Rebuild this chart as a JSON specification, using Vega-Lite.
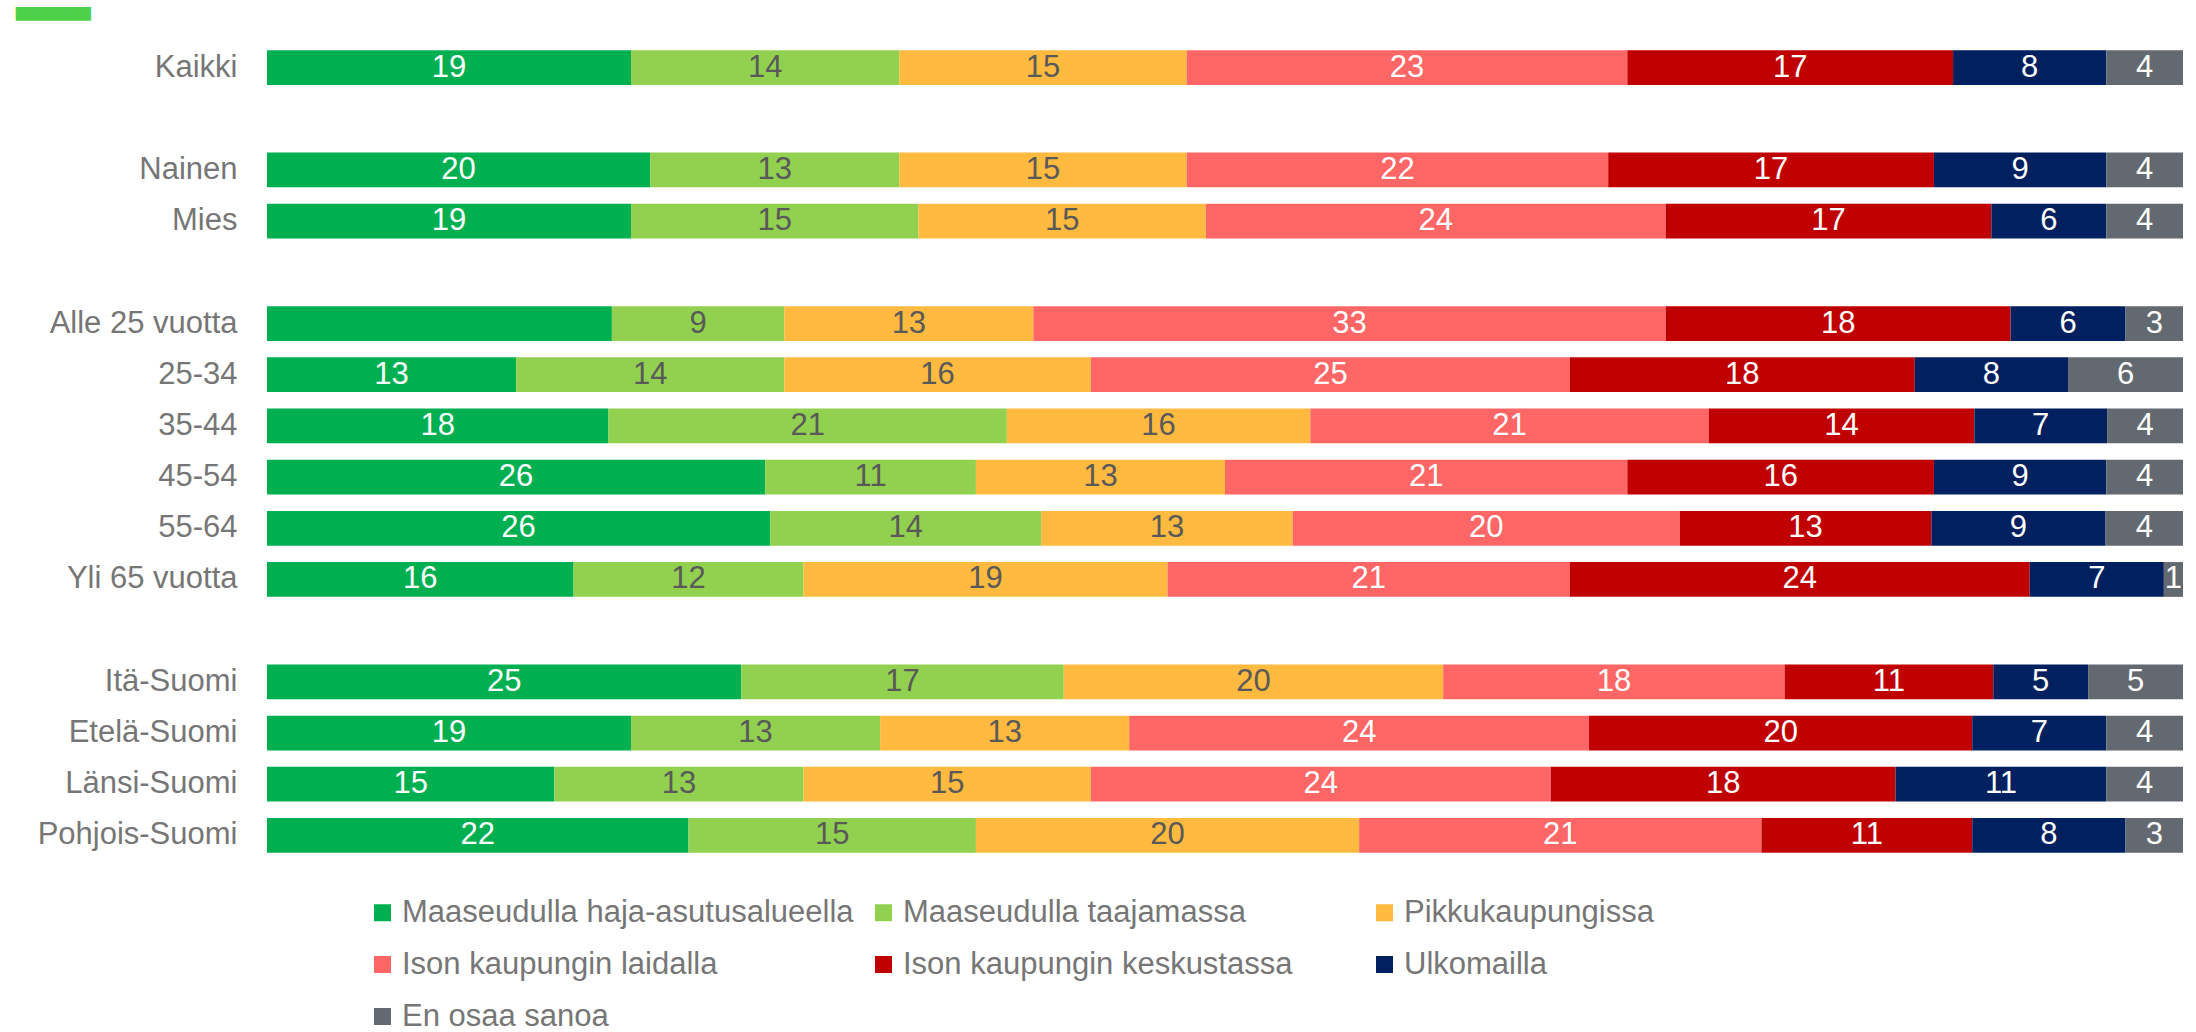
{
  "$schema": "https://vega.github.io/schema/vega-lite/v6.json",
  "width": 1916,
  "height": 819,
  "autosize": {"type": "none"},
  "padding": {"left": 267, "top": 42, "right": 13, "bottom": 171},
  "background": "white",
  "title": {"text": "▃▃▃▃", "anchor": "start", "frame": "group", "dx": -251, "fontSize": 31, "color": "#4FD04A", "font": "DejaVu Sans Mono", "offset": 22},
  "config": {"view": {"stroke": null}, "font": "Liberation Sans"},
  "datasets": {
    "cats": [
      {"cat": "Maaseudulla haja-asutusalueella", "k": 1},
      {"cat": "Maaseudulla taajamassa", "k": 2},
      {"cat": "Pikkukaupungissa", "k": 3},
      {"cat": "Ison kaupungin laidalla", "k": 4},
      {"cat": "Ison kaupungin keskustassa", "k": 5},
      {"cat": "Ulkomailla", "k": 6},
      {"cat": "En osaa sanoa", "k": 7}
    ],
    "rows": [
      {"g": "Kaikki", "cat": "Maaseudulla haja-asutusalueella", "v": 19},
      {"g": "Kaikki", "cat": "Maaseudulla taajamassa", "v": 14},
      {"g": "Kaikki", "cat": "Pikkukaupungissa", "v": 15},
      {"g": "Kaikki", "cat": "Ison kaupungin laidalla", "v": 23},
      {"g": "Kaikki", "cat": "Ison kaupungin keskustassa", "v": 17},
      {"g": "Kaikki", "cat": "Ulkomailla", "v": 8},
      {"g": "Kaikki", "cat": "En osaa sanoa", "v": 4},
      {"g": "Nainen", "cat": "Maaseudulla haja-asutusalueella", "v": 20},
      {"g": "Nainen", "cat": "Maaseudulla taajamassa", "v": 13},
      {"g": "Nainen", "cat": "Pikkukaupungissa", "v": 15},
      {"g": "Nainen", "cat": "Ison kaupungin laidalla", "v": 22},
      {"g": "Nainen", "cat": "Ison kaupungin keskustassa", "v": 17},
      {"g": "Nainen", "cat": "Ulkomailla", "v": 9},
      {"g": "Nainen", "cat": "En osaa sanoa", "v": 4},
      {"g": "Mies", "cat": "Maaseudulla haja-asutusalueella", "v": 19},
      {"g": "Mies", "cat": "Maaseudulla taajamassa", "v": 15},
      {"g": "Mies", "cat": "Pikkukaupungissa", "v": 15},
      {"g": "Mies", "cat": "Ison kaupungin laidalla", "v": 24},
      {"g": "Mies", "cat": "Ison kaupungin keskustassa", "v": 17},
      {"g": "Mies", "cat": "Ulkomailla", "v": 6},
      {"g": "Mies", "cat": "En osaa sanoa", "v": 4},
      {"g": "Alle 25 vuotta", "cat": "Maaseudulla haja-asutusalueella", "v": 18},
      {"g": "Alle 25 vuotta", "cat": "Maaseudulla taajamassa", "v": 9},
      {"g": "Alle 25 vuotta", "cat": "Pikkukaupungissa", "v": 13},
      {"g": "Alle 25 vuotta", "cat": "Ison kaupungin laidalla", "v": 33},
      {"g": "Alle 25 vuotta", "cat": "Ison kaupungin keskustassa", "v": 18},
      {"g": "Alle 25 vuotta", "cat": "Ulkomailla", "v": 6},
      {"g": "Alle 25 vuotta", "cat": "En osaa sanoa", "v": 3},
      {"g": "25-34", "cat": "Maaseudulla haja-asutusalueella", "v": 13},
      {"g": "25-34", "cat": "Maaseudulla taajamassa", "v": 14},
      {"g": "25-34", "cat": "Pikkukaupungissa", "v": 16},
      {"g": "25-34", "cat": "Ison kaupungin laidalla", "v": 25},
      {"g": "25-34", "cat": "Ison kaupungin keskustassa", "v": 18},
      {"g": "25-34", "cat": "Ulkomailla", "v": 8},
      {"g": "25-34", "cat": "En osaa sanoa", "v": 6},
      {"g": "35-44", "cat": "Maaseudulla haja-asutusalueella", "v": 18},
      {"g": "35-44", "cat": "Maaseudulla taajamassa", "v": 21},
      {"g": "35-44", "cat": "Pikkukaupungissa", "v": 16},
      {"g": "35-44", "cat": "Ison kaupungin laidalla", "v": 21},
      {"g": "35-44", "cat": "Ison kaupungin keskustassa", "v": 14},
      {"g": "35-44", "cat": "Ulkomailla", "v": 7},
      {"g": "35-44", "cat": "En osaa sanoa", "v": 4},
      {"g": "45-54", "cat": "Maaseudulla haja-asutusalueella", "v": 26},
      {"g": "45-54", "cat": "Maaseudulla taajamassa", "v": 11},
      {"g": "45-54", "cat": "Pikkukaupungissa", "v": 13},
      {"g": "45-54", "cat": "Ison kaupungin laidalla", "v": 21},
      {"g": "45-54", "cat": "Ison kaupungin keskustassa", "v": 16},
      {"g": "45-54", "cat": "Ulkomailla", "v": 9},
      {"g": "45-54", "cat": "En osaa sanoa", "v": 4},
      {"g": "55-64", "cat": "Maaseudulla haja-asutusalueella", "v": 26},
      {"g": "55-64", "cat": "Maaseudulla taajamassa", "v": 14},
      {"g": "55-64", "cat": "Pikkukaupungissa", "v": 13},
      {"g": "55-64", "cat": "Ison kaupungin laidalla", "v": 20},
      {"g": "55-64", "cat": "Ison kaupungin keskustassa", "v": 13},
      {"g": "55-64", "cat": "Ulkomailla", "v": 9},
      {"g": "55-64", "cat": "En osaa sanoa", "v": 4},
      {"g": "Yli 65 vuotta", "cat": "Maaseudulla haja-asutusalueella", "v": 16},
      {"g": "Yli 65 vuotta", "cat": "Maaseudulla taajamassa", "v": 12},
      {"g": "Yli 65 vuotta", "cat": "Pikkukaupungissa", "v": 19},
      {"g": "Yli 65 vuotta", "cat": "Ison kaupungin laidalla", "v": 21},
      {"g": "Yli 65 vuotta", "cat": "Ison kaupungin keskustassa", "v": 24},
      {"g": "Yli 65 vuotta", "cat": "Ulkomailla", "v": 7},
      {"g": "Yli 65 vuotta", "cat": "En osaa sanoa", "v": 1},
      {"g": "Itä-Suomi", "cat": "Maaseudulla haja-asutusalueella", "v": 25},
      {"g": "Itä-Suomi", "cat": "Maaseudulla taajamassa", "v": 17},
      {"g": "Itä-Suomi", "cat": "Pikkukaupungissa", "v": 20},
      {"g": "Itä-Suomi", "cat": "Ison kaupungin laidalla", "v": 18},
      {"g": "Itä-Suomi", "cat": "Ison kaupungin keskustassa", "v": 11},
      {"g": "Itä-Suomi", "cat": "Ulkomailla", "v": 5},
      {"g": "Itä-Suomi", "cat": "En osaa sanoa", "v": 5},
      {"g": "Etelä-Suomi", "cat": "Maaseudulla haja-asutusalueella", "v": 19},
      {"g": "Etelä-Suomi", "cat": "Maaseudulla taajamassa", "v": 13},
      {"g": "Etelä-Suomi", "cat": "Pikkukaupungissa", "v": 13},
      {"g": "Etelä-Suomi", "cat": "Ison kaupungin laidalla", "v": 24},
      {"g": "Etelä-Suomi", "cat": "Ison kaupungin keskustassa", "v": 20},
      {"g": "Etelä-Suomi", "cat": "Ulkomailla", "v": 7},
      {"g": "Etelä-Suomi", "cat": "En osaa sanoa", "v": 4},
      {"g": "Länsi-Suomi", "cat": "Maaseudulla haja-asutusalueella", "v": 15},
      {"g": "Länsi-Suomi", "cat": "Maaseudulla taajamassa", "v": 13},
      {"g": "Länsi-Suomi", "cat": "Pikkukaupungissa", "v": 15},
      {"g": "Länsi-Suomi", "cat": "Ison kaupungin laidalla", "v": 24},
      {"g": "Länsi-Suomi", "cat": "Ison kaupungin keskustassa", "v": 18},
      {"g": "Länsi-Suomi", "cat": "Ulkomailla", "v": 11},
      {"g": "Länsi-Suomi", "cat": "En osaa sanoa", "v": 4},
      {"g": "Pohjois-Suomi", "cat": "Maaseudulla haja-asutusalueella", "v": 22},
      {"g": "Pohjois-Suomi", "cat": "Maaseudulla taajamassa", "v": 15},
      {"g": "Pohjois-Suomi", "cat": "Pikkukaupungissa", "v": 20},
      {"g": "Pohjois-Suomi", "cat": "Ison kaupungin laidalla", "v": 21},
      {"g": "Pohjois-Suomi", "cat": "Ison kaupungin keskustassa", "v": 11},
      {"g": "Pohjois-Suomi", "cat": "Ulkomailla", "v": 8},
      {"g": "Pohjois-Suomi", "cat": "En osaa sanoa", "v": 3}
    ]
  },
  "data": {"name": "rows"},
  "transform": [
    {"lookup": "cat", "from": {"data": {"name": "cats"}, "key": "cat", "fields": ["k"]}}
  ],
  "encoding": {
    "y": {
      "field": "g",
      "type": "nominal",
      "scale": {
        "domain": ["Kaikki", " ", "Nainen", "Mies", "  ", "Alle 25 vuotta", "25-34", "35-44", "45-54", "55-64", "Yli 65 vuotta", "   ", "Itä-Suomi", "Etelä-Suomi", "Länsi-Suomi", "Pohjois-Suomi"],
        "paddingInner": 0.32,
        "paddingOuter": 0.16
      },
      "axis": {
        "title": null,
        "domain": false,
        "ticks": false,
        "labelPadding": 30,
        "labelFontSize": 31,
        "labelFont": "Liberation Sans",
        "labelColor": "#767676",
        "labelLimit": 400
      }
    },
    "x": {
      "field": "v",
      "type": "quantitative",
      "stack": "normalize",
      "axis": null,
      "scale": {"domain": [0, 1], "nice": false}
    },
    "order": {"field": "k", "type": "quantitative"}
  },
  "layer": [
    {
      "mark": {"type": "bar"},
      "encoding": {
        "color": {
          "field": "cat",
          "type": "nominal",
          "scale": {
            "domain": ["Maaseudulla haja-asutusalueella", "Maaseudulla taajamassa", "Pikkukaupungissa", "Ison kaupungin laidalla", "Ison kaupungin keskustassa", "Ulkomailla", "En osaa sanoa"],
            "range": ["#00B050", "#92D050", "#FFBA3F", "#FF6666", "#C00000", "#002060", "#636970"]
          },
          "legend": {
            "orient": "none",
            "legendX": 100,
            "legendY": 855,
            "direction": "horizontal",
            "columns": 3,
            "gridAlign": "all",
            "columnPadding": 14,
            "rowPadding": 20,
            "symbolType": "square",
            "symbolSize": 289,
            "symbolStrokeWidth": 0,
            "labelFontSize": 31,
            "labelFont": "Liberation Sans",
            "labelColor": "#767676",
            "labelLimit": 700,
            "labelOffset": 4,
            "title": null,
            "padding": 0
          }
        }
      }
    },
    {
      "mark": {"type": "text", "fontSize": 31, "font": "Liberation Sans", "align": "center", "baseline": "middle"},
      "encoding": {
        "x": {"field": "v", "type": "quantitative", "stack": "normalize", "bandPosition": 0.5},
        "detail": {"field": "cat"},
        "text": {"field": "v", "type": "quantitative"},
        "color": {
          "condition": {"test": "datum.cat === 'Maaseudulla taajamassa' || datum.cat === 'Pikkukaupungissa'", "value": "#595959"},
          "value": "#FFFFFF"
        },
        "opacity": {
          "condition": {"test": "datum.g === 'Alle 25 vuotta' && datum.cat === 'Maaseudulla haja-asutusalueella'", "value": 0},
          "value": 1
        }
      }
    }
  ]
}
